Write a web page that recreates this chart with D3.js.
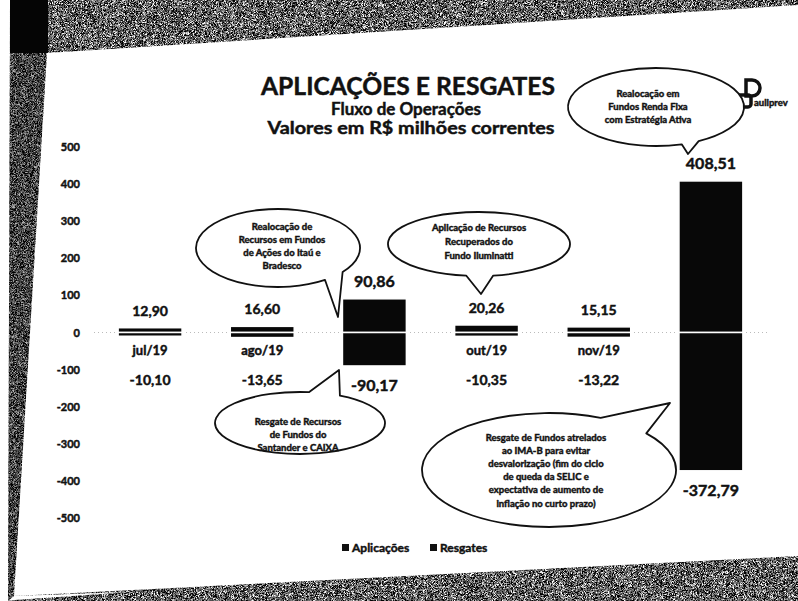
<!DOCTYPE html>
<html>
<head>
<meta charset="utf-8">
<script src="https://cdn.jsdelivr.net/npm/d3@7"></script>
<style>
  body { margin: 0; background: #fff; }
  text { font-family: Lato, "Open Sans", sans-serif; font-weight: bold; fill: #111; stroke: #111; stroke-width: 0.45; }
</style>
</head>
<body>
<svg id="chart" width="798" height="601"></svg>
<script>
const months = ["jul/19", "ago/19", "set/19", "out/19", "nov/19", "dez/19"];
const aplicacoes = [12.90, 16.60, 90.86, 20.26, 15.15, 408.51];
const resgates = [-10.10, -13.65, -90.17, -10.35, -13.22, -372.79];
const yTicks = [500, 400, 300, 200, 100, 0, -100, -200, -300, -400, -500];
const seriesNames = ["Aplicações", "Resgates"];

const titleLines = ["APLICAÇÕES E RESGATES", "Fluxo de Operações", "Valores em R$ milhões correntes"];

const bubbleTexts = [
    ["Realocação de", "Recursos em Fundos", "de Ações do Itaú e", "Bradesco"],
    ["Resgate de Recursos", "de Fundos do", "Santander e CAIXA"],
    ["Aplicação de Recursos", "Recuperados do", "Fundo Iluminatti"],
    ["Realocação em", "Fundos Renda Fixa", "com Estratégia Ativa"],
    ["Resgate de Fundos atrelados", "ao IMA-B para evitar", "desvalorização (fim do ciclo", "de queda da SELIC e", "expectativa de aumento de", "inflação no curto prazo)"]
];

const svg = d3.select("#chart");
const W = 798, H = 601;

// scanned page look: grainy grey border around the white slide
const defs = svg.append("defs");
const f = defs.append("filter").attr("id", "noise").attr("x", 0).attr("y", 0).attr("width", "100%").attr("height", "100%")
    .attr("color-interpolation-filters", "sRGB");
f.append("feTurbulence").attr("type", "fractalNoise").attr("baseFrequency", 1.9).attr("numOctaves", 2).attr("seed", 7);
f.append("feColorMatrix").attr("type", "matrix")
    .attr("values", "0.33 0.33 0.33 0 0  0.33 0.33 0.33 0 0  0.33 0.33 0.33 0 0  0 0 0 0 1");
const ct = f.append("feComponentTransfer");
["feFuncR", "feFuncG", "feFuncB"].forEach(function (k) {
    ct.append(k).attr("type", "linear").attr("slope", 5).attr("intercept", -2.1);
});

svg.append("rect").attr("width", W).attr("height", H).attr("filter", "url(#noise)");
svg.append("polygon").attr("points", "0,0 10,0 8,601 0,601").attr("fill", "#fff");
svg.append("polygon").attr("points", "10,53 47,53 14,596 8,601").attr("fill", "#000").attr("opacity", 0.3);
svg.append("rect").attr("x", 10).attr("y", 0).attr("width", 38).attr("height", 53).attr("fill", "#050505");
svg.append("polygon").attr("points", "47,53 798,5 798,556 14,596").attr("fill", "#fff");
svg.append("polygon").attr("points", "8,601 14,596 130,592 0,601").attr("fill", "#fff");

// scales
const x = d3.scaleBand().domain(months).range([94, 767]).paddingInner(0.43).paddingOuter(0.215);
const y = d3.scaleLinear().domain([-500, 500]).range([518, 147]);
const fmt = d3.formatLocale({ decimal: ",", thousands: ".", grouping: [3], currency: ["R$", ""], minus: "-" }).format(".2f");

// titles
const tg = svg.append("g");
tg.append("text").attr("x", 408).attr("y", 95).attr("text-anchor", "middle")
    .attr("font-size", 24).attr("textLength", 294).attr("lengthAdjust", "spacingAndGlyphs").text(titleLines[0]);
tg.append("text").attr("x", 406).attr("y", 115).attr("text-anchor", "middle")
    .attr("font-size", 16.5).attr("textLength", 150).attr("lengthAdjust", "spacingAndGlyphs").text(titleLines[1]);
tg.append("text").attr("x", 411).attr("y", 134).attr("text-anchor", "middle")
    .attr("font-size", 16.5).attr("textLength", 287).attr("lengthAdjust", "spacingAndGlyphs").text(titleLines[2]);

// logo
const logo = svg.append("g");
logo.append("path").attr("d", "M746,80 h6 a8,8 0 0 1 0,16 h-6 z").attr("fill", "none").attr("stroke", "#111").attr("stroke-width", 3.5);
logo.append("path").attr("d", "M740,95 h8 a3,3 0 0 1 3,3 v6 a3,3 0 0 1 -3,3 h-8 a3,3 0 0 1 -3,-3 v-6 a3,3 0 0 1 3,-3 z")
    .attr("fill", "none").attr("stroke", "#111").attr("stroke-width", 3.5);
logo.append("text").attr("x", 754).attr("y", 106).attr("font-size", 9.5).attr("font-weight", "normal").attr("stroke-width", 0).text("auliprev");

// y axis labels
svg.append("g").selectAll("text").data(yTicks).join("text")
    .attr("x", 80).attr("y", d => y(d) + 4).attr("text-anchor", "end")
    .attr("font-size", 11).text(d => d);

// faint zero axis
svg.append("line").attr("x1", 94).attr("x2", 767).attr("y1", y(0)).attr("y2", y(0))
    .attr("stroke", "#bbb").attr("stroke-width", 1).attr("stroke-dasharray", "1,3");

// category labels (hidden behind the tall bars, as in the slide)
svg.append("g").selectAll("text").data(months).join("text")
    .attr("x", d => x(d) + x.bandwidth() / 2).attr("y", y(0) + 22)
    .attr("text-anchor", "middle").attr("font-size", 13).text(d => d);

// bars
const bars = svg.append("g");
bars.selectAll("rect.ap").data(aplicacoes).join("rect").attr("class", "ap")
    .attr("x", (d, i) => x(months[i])).attr("width", x.bandwidth())
    .attr("y", d => y(d)).attr("height", d => y(0) - y(d))
    .attr("fill", "#080808").attr("stroke", "#fff").attr("stroke-width", 1.5);
bars.selectAll("rect.rs").data(resgates).join("rect").attr("class", "rs")
    .attr("x", (d, i) => x(months[i])).attr("width", x.bandwidth())
    .attr("y", y(0)).attr("height", d => y(d) - y(0))
    .attr("fill", "#080808").attr("stroke", "#fff").attr("stroke-width", 1.5);

// value labels
svg.append("g").selectAll("text").data(aplicacoes).join("text")
    .attr("x", (d, i) => x(months[i]) + x.bandwidth() / 2)
    .attr("y", d => y(d) - 12)
    .attr("text-anchor", "middle").attr("font-size", d => d > 50 ? 16 : 14).text(d => fmt(d));
svg.append("g").selectAll("text").data(resgates).join("text")
    .attr("x", (d, i) => x(months[i]) + x.bandwidth() / 2)
    .attr("y", d => Math.max(y(d) + 20, y(0) + 47) + 5)
    .attr("text-anchor", "middle").attr("font-size", d => d < -50 ? 16 : 14).text(d => fmt(d));

// speech bubbles
const bubbles = [
    { cx: 278, cy: 248, rx: 82, ry: 39, a1: 38, a2: 55, tip: [338, 317], tx: 282, ty: 226, lh: 13 },
    { cx: 300, cy: 423, rx: 85, ry: 31, a1: -84, a2: -62, tip: [339, 370], tx: 298, ty: 421, lh: 13 },
    { cx: 479, cy: 244, rx: 91, ry: 32, a1: 81, a2: 98, tip: [481, 294], tx: 479, ty: 227, lh: 14 },
    { cx: 656, cy: 107, rx: 88, ry: 39, a1: 61, a2: 73, tip: [688, 154], tx: 648, ty: 93, lh: 13 },
    { cx: 549, cy: 470, rx: 127, ry: 57, a1: -66, a2: -40, tip: [670, 403], tx: 546, ty: 437, lh: 13.2 }
];
const pt = function (b, a) {
    const r = a * Math.PI / 180;
    return [b.cx + b.rx * Math.cos(r), b.cy + b.ry * Math.sin(r)];
};
bubbles.forEach(function (b, i) {
    const p1 = pt(b, b.a1), p2 = pt(b, b.a2);
    const g = svg.append("g");
    g.append("path")
        .attr("d", "M" + p2[0] + "," + p2[1] + " A" + b.rx + "," + b.ry + " 0 1 1 " + p1[0] + "," + p1[1] + " L" + b.tip[0] + "," + b.tip[1] + " Z")
        .attr("fill", "#fff").attr("stroke", "#111").attr("stroke-width", 1.8).attr("stroke-linejoin", "round");
    g.selectAll("text").data(bubbleTexts[i]).join("text")
        .attr("x", b.tx).attr("y", (d, j) => b.ty + j * b.lh + 3.5)
        .attr("text-anchor", "middle").attr("font-size", 9.5).text(d => d);
});

// legend
const lg = svg.append("g").attr("transform", "translate(342,548)");
lg.selectAll("rect").data(seriesNames).join("rect")
    .attr("x", (d, i) => i * 88).attr("y", -4).attr("width", 7).attr("height", 7).attr("fill", "#111");
lg.selectAll("text").data(seriesNames).join("text")
    .attr("x", (d, i) => i * 88 + 10).attr("y", 4).attr("font-size", 12).text(d => d);
</script>
</body>
</html>
